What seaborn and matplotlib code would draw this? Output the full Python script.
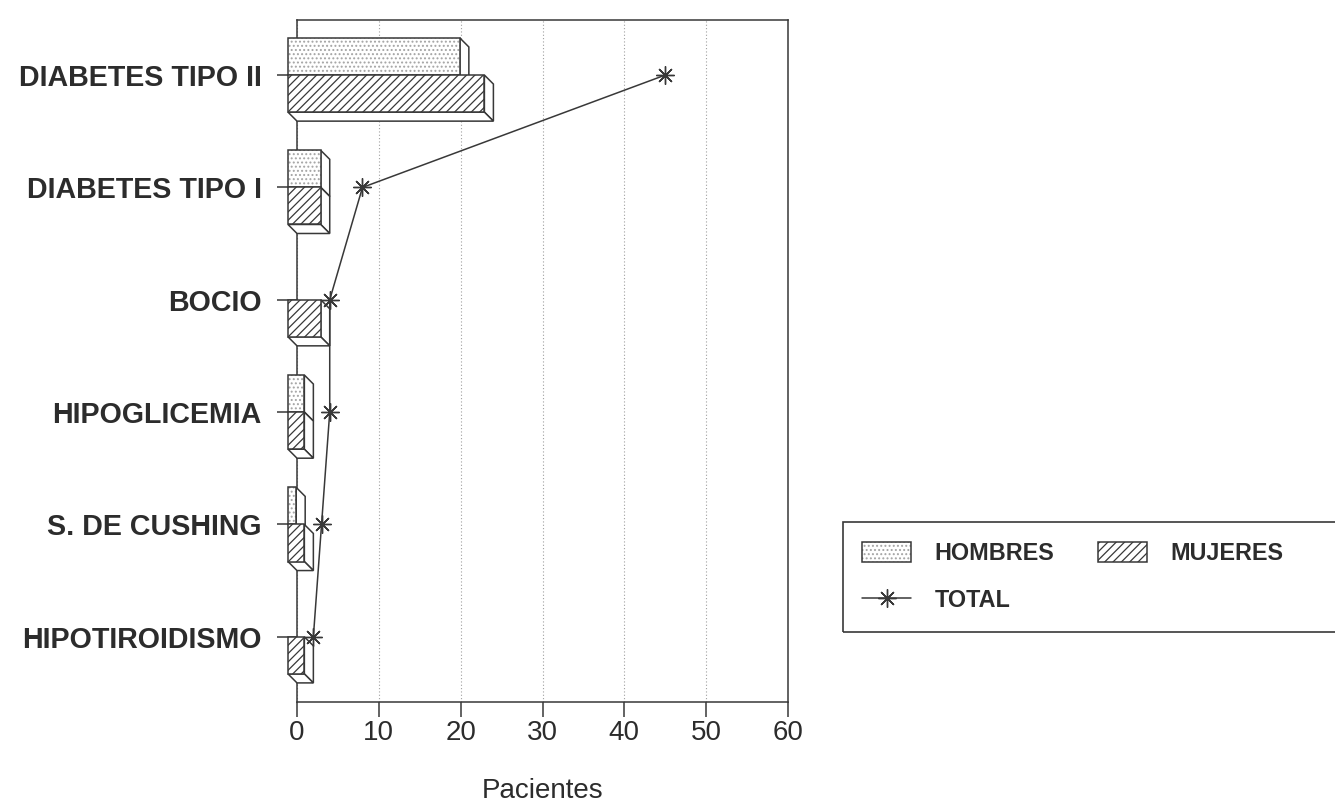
import numpy as np
import pandas as pd
import matplotlib
matplotlib.use("Agg")
import matplotlib.pyplot as plt
from matplotlib.patches import Rectangle, Polygon, Patch
from matplotlib.lines import Line2D
import seaborn as sns

# Patients per endocrine disease, by sex, and overall total
categorias = ["DIABETES TIPO II", "DIABETES TIPO I", "BOCIO",
              "HIPOGLICEMIA", "S. DE CUSHING", "HIPOTIROIDISMO"]
hombres = [21, 4, 0, 2, 1, 0]
mujeres = [24, 4, 4, 2, 2, 2]
total = [45, 8, 4, 4, 3, 2]
x_ticks = [0, 10, 20, 30, 40, 50, 60]

INK = "#2c2c2c"
LINE = "#383838"
DOTS = "#a4a4a4"

sns.set_theme(style="white")
plt.rcParams["font.family"] = ["Liberation Sans", "DejaVu Sans"]
plt.rcParams["hatch.linewidth"] = 0.9

fig = plt.figure(figsize=(13.35, 8.08), dpi=100)
ax = fig.add_axes([297 / 1335, 106 / 808, 491 / 1335, 682 / 808])

df = pd.DataFrame({
    "enfermedad": categorias * 2,
    "sexo": ["HOMBRES"] * len(categorias) + ["MUJERES"] * len(categorias),
    "pacientes": hombres + mujeres,
})

sns.barplot(data=df, x="pacientes", y="enfermedad", hue="sexo",
            hue_order=["HOMBRES", "MUJERES"], order=categorias, orient="h",
            width=0.66, dodge=True, palette=["white", "white"], saturation=1,
            linewidth=0, errorbar=None, legend=False, ax=ax)

Y_TOP, Y_BOT = -0.49, 5.58
ax.set_xlim(0, 60)
ax.set_ylim(Y_BOT, Y_TOP)

# depth of the extruded bars, in data units (about 9 px right, 9 px down)
DX = 9 / (491 / 60)
DY = 9 / (682 / (Y_BOT - Y_TOP))

estilos = {
    "HOMBRES": dict(hatch="....", color=DOTS, z=4),
    "MUJERES": dict(hatch="////", color=LINE, z=5),
}
for cont, nivel, valores in zip(ax.containers, ["HOMBRES", "MUJERES"], [hombres, mujeres]):
    st = estilos[nivel]
    z = st["z"]
    for p, v in zip(cont.patches, valores):
        if v == 0:
            p.set_visible(False)
            continue
        x0 = p.get_x() - DX
        y0, h, w = p.get_y(), p.get_height(), p.get_width()
        p.set_x(x0)
        p.set_hatch(st["hatch"])
        p.set_edgecolor(st["color"])
        p.set_facecolor("white")
        p.set_linewidth(0)
        p.set_zorder(z)
        p.set_clip_on(False)
        lado = Polygon([(x0 + w, y0), (x0 + w + DX, y0 + DY),
                        (x0 + w + DX, y0 + h + DY), (x0 + w, y0 + h)],
                       closed=True, facecolor="white", edgecolor=LINE,
                       linewidth=1.1, zorder=z - 0.1, clip_on=False)
        base = Polygon([(x0, y0 + h), (x0 + w, y0 + h),
                        (x0 + w + DX, y0 + h + DY), (x0 + DX, y0 + h + DY)],
                       closed=True, facecolor="white", edgecolor=LINE,
                       linewidth=1.1, zorder=z - 0.1, clip_on=False)
        borde = Rectangle((x0, y0), w, h, fill=False, edgecolor=LINE,
                          linewidth=1.1, zorder=z + 0.1, clip_on=False)
        ax.add_patch(lado)
        ax.add_patch(base)
        ax.add_patch(borde)

# total line with asterisk markers
pos = np.arange(len(categorias))
sns.lineplot(x=total, y=pos, orient="y", sort=False, estimator=None,
             color=LINE, linewidth=1.1, marker=(8, 2, 0), markersize=13,
             markeredgewidth=1.0, markeredgecolor=LINE, ax=ax, zorder=7)

ax.set_xlim(0, 60)
ax.set_ylim(Y_BOT, Y_TOP)
ax.set_xticks(x_ticks)
ax.set_xticklabels([str(t) for t in x_ticks])
ax.set_yticks(pos)
ax.set_yticklabels(categorias)

ax.xaxis.grid(True, linestyle=(0, (1, 2)), color="#a0a0a0", linewidth=0.8)
ax.yaxis.grid(False)
for s in ax.spines.values():
    s.set_visible(True)
    s.set_color(LINE)
    s.set_linewidth(1.1)

ax.tick_params(axis="y", left=True, direction="out", length=14.4, width=1.1,
               color=LINE, pad=11, labelsize=20.6, labelcolor=INK)
ax.tick_params(axis="x", bottom=True, direction="out", length=10.8, width=1.1,
               color=LINE, pad=2, labelsize=20, labelcolor=INK)
for t in ax.get_yticklabels():
    t.set_fontweight("bold")

ax.set_ylabel("")
ax.set_xlabel("Pacientes", fontsize=20, color=INK, labelpad=23)

# legend
h_hombres = (Patch(facecolor="white", edgecolor=DOTS, hatch="....", linewidth=0),
             Patch(fill=False, edgecolor=LINE, linewidth=1.1))
h_mujeres = (Patch(facecolor="white", edgecolor=LINE, hatch="////", linewidth=0),
             Patch(fill=False, edgecolor=LINE, linewidth=1.1))
h_total = Line2D([], [], color=LINE, linewidth=1.1, marker=(8, 2, 0),
                 markersize=13, markeredgewidth=1.0)
fig.legend(handles=[h_hombres, h_total, h_mujeres],
           labels=["HOMBRES", "TOTAL", "MUJERES"],
           ncol=2, loc="center left",
           bbox_to_anchor=(862 / 1335, 1 - 577 / 808),
           frameon=False, borderpad=0, borderaxespad=0,
           handlelength=2.1, handleheight=0.95, handletextpad=1.0,
           columnspacing=1.9, labelspacing=1.0,
           prop=dict(weight="bold", size=16.8), labelcolor=INK)
fig.add_artist(Rectangle((843 / 1335, 1 - 632 / 808), 0.45, (632 - 522) / 808,
                         transform=fig.transFigure, fill=False,
                         edgecolor=LINE, linewidth=1.2, clip_on=False))

fig.savefig("out.png", dpi=100, facecolor="white")
